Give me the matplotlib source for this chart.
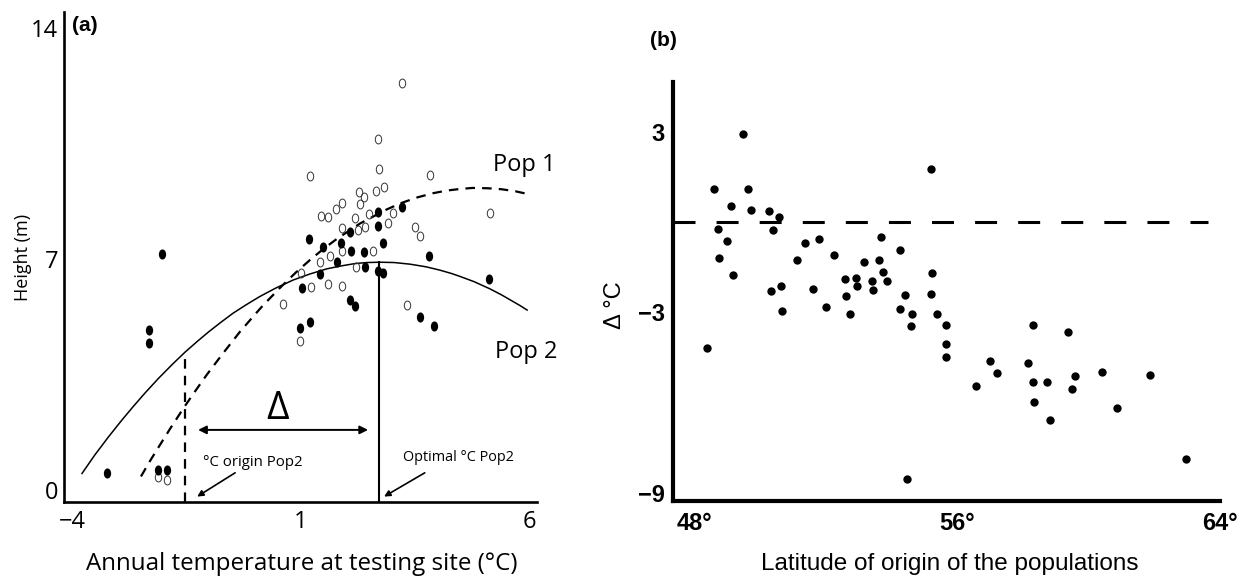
#!/usr/bin/env python
"""Two-panel figure: height response curves (a) and transfer distance vs latitude (b)."""

from __future__ import annotations

import matplotlib

matplotlib.use("Agg")
import matplotlib.pyplot as plt
from matplotlib.path import Path
from matplotlib.transforms import Affine2D


# ---- panel (a): response curves ----
POP2_CURVE_X = [-3.78, -3.50, -3.20, -2.90, -2.67, -2.40, -2.10, -1.80, -1.53, -1.25,
                -1.00, -0.75, -0.48, -0.20, 0.11, 0.45, 0.84, 1.20, 1.58, 1.90,
                2.20, 2.45, 2.74, 3.05, 3.40, 3.75, 4.05, 4.30, 4.49, 4.80,
                5.15, 5.40, 5.60, 5.80, 5.96]
POP2_CURVE_Y = [0.50, 1.06, 1.61, 2.13, 2.51, 2.94, 3.39, 3.81, 4.17, 4.51,
                4.80, 5.07, 5.35, 5.60, 5.86, 6.11, 6.36, 6.54, 6.70, 6.79,
                6.86, 6.89, 6.90, 6.89, 6.84, 6.76, 6.66, 6.56, 6.47, 6.31,
                6.09, 5.91, 5.75, 5.59, 5.45]
POP1_CURVE_X = [-2.49, -2.30, -2.14, -1.85, -1.53, -1.30, -1.05, -0.70, -0.32, 0.00,
                0.18, 0.55, 0.90, 1.21, 1.50, 1.80, 2.30, 2.89, 3.20, 3.55,
                3.90, 4.20, 4.50, 4.77, 5.10, 5.40, 5.70, 5.96]
POP1_CURVE_Y = [0.41, 0.86, 1.22, 1.86, 2.54, 3.00, 3.49, 4.13, 4.80, 5.31,
                5.59, 6.12, 6.59, 6.97, 7.30, 7.61, 8.07, 8.50, 8.69, 8.86,
                8.99, 9.07, 9.12, 9.15, 9.14, 9.11, 9.05, 8.97]

# filled ellipses
FILLED_X = [-2.03, -2.31, -2.31, -3.23, -2.12, -1.92, 2.70, 3.22, 2.08, 2.70,
            1.19, 1.49, 1.89, 2.10, 2.39, 2.81, 1.80, 2.41, 2.70, 2.81,
            1.43, 3.81, 1.03, 2.08, 2.19, 3.61, 3.92, 1.21, 0.99, 5.12]
FILLED_Y = [7.15, 4.85, 4.45, 0.52, 0.61, 0.61, 8.42, 8.58, 7.82, 8.00,
            7.61, 7.36, 7.48, 7.24, 7.21, 7.48, 6.91, 6.76, 6.64, 6.58,
            6.55, 7.09, 6.12, 5.76, 5.58, 5.24, 4.97, 5.09, 4.91, 6.39]
# open ellipses
OPEN_X = [3.22, 2.70, 1.21, 2.72, 3.83, 2.28, 2.39, 2.65, 2.83, 1.91,
          1.78, 2.30, 1.45, 1.60, 3.02, 2.50, 2.19, 1.91, 2.26, 2.41,
          2.91, 3.51, 3.61, 1.91, 2.59, 1.65, 1.43, 2.21, 1.01, 1.23,
          1.60, 1.91, 0.62, 3.33, 0.99, -2.12, -1.92, 5.15]
OPEN_Y = [12.33, 10.64, 9.52, 9.73, 9.55, 9.03, 8.88, 9.06, 9.18, 8.70,
          8.52, 8.67, 8.30, 8.27, 8.39, 8.36, 8.24, 7.94, 7.88, 7.97,
          8.09, 7.97, 7.70, 7.24, 7.24, 7.09, 6.91, 6.76, 6.58, 6.15,
          6.24, 6.18, 5.64, 5.61, 4.52, 0.39, 0.30, 8.39]

ORIGIN_TEMP = -1.53
ORIGIN_HEIGHT = 4.17
OPTIMAL_TEMP = 2.72
OPTIMAL_HEIGHT = 6.90
A_XTICKS = [-4, 1, 6]
A_YTICKS = [0, 7, 14]

# ---- panel (b): latitude vs delta temperature ----
LAT = [49.47, 55.21, 48.60, 49.62, 49.11, 49.71, 50.25, 50.58, 48.72, 50.40,
       48.99, 51.36, 51.78, 53.68, 48.75, 51.12, 52.23, 54.25, 53.17, 53.62,
       49.17, 53.74, 55.24, 52.59, 52.92, 53.41, 53.86, 52.95, 53.44, 50.31,
       50.64, 51.60, 52.62, 54.40, 55.21, 50.67, 51.99, 52.74, 54.25, 54.61,
       54.58, 48.39, 55.39, 55.66, 55.66, 55.66, 54.46, 56.56, 56.98, 57.22,
       58.15, 58.30, 58.30, 58.72, 58.33, 58.81, 59.38, 59.59, 59.50, 60.40,
       60.85, 61.87, 62.95]
DELTA_T = [2.92, 1.76, 1.10, 1.10, 0.53, 0.40, 0.37, 0.17, -0.23, -0.27,
           -0.63, -0.70, -0.56, -0.50, -1.20, -1.26, -1.10, -0.93, -1.33, -1.26,
           -1.76, -1.66, -1.69, -1.89, -1.86, -1.96, -1.96, -2.13, -2.26, -2.29,
           -2.13, -2.23, -2.46, -2.43, -2.39, -2.96, -2.82, -3.06, -2.89, -3.06,
           -3.46, -4.19, -3.06, -3.42, -4.05, -4.49, -8.54, -5.45, -4.62, -5.02,
           -4.68, -3.42, -5.32, -5.32, -5.98, -6.58, -3.65, -5.12, -5.55, -4.98,
           -6.18, -5.08, -7.87]
B_XTICKS = [48, 56, 64]
B_XTICKLABELS = ["48°", "56°", "64°"]
B_YTICKS = [3, -3, -9]
B_YTICKLABELS = ["3", "\u22123", "\u22129"]

FONT_A = ["Open Sans", "DejaVu Sans"]
FONT_B = ["Liberation Sans", "DejaVu Sans"]


def ellipse_marker() -> Path:
    return Path.unit_circle().transformed(Affine2D().scale(0.72, 1.0))


def draw_panel_a(ax) -> None:
    ax.set_xlim(-4.175, 6.175)
    ax.set_ylim(-0.364, 14.48)

    ax.plot(POP2_CURVE_X, POP2_CURVE_Y, color="black", lw=1.1)
    ax.plot(POP1_CURVE_X, POP1_CURVE_Y, color="black", lw=1.6, dashes=(4.3, 3.2))

    ax.plot([ORIGIN_TEMP, ORIGIN_TEMP], [-0.364, ORIGIN_HEIGHT], color="black",
            lw=1.6, dashes=(4.3, 3.2))
    ax.plot([OPTIMAL_TEMP, OPTIMAL_TEMP], [-0.364, OPTIMAL_HEIGHT], color="black", lw=1.5)

    mk = ellipse_marker()
    ax.plot(OPEN_X, OPEN_Y, ls="none", marker=mk, ms=6.4, mfc="none",
            mec="#333333", mew=0.7)
    ax.plot(FILLED_X, FILLED_Y, ls="none", marker=mk, ms=7.3, mfc="black",
            mec="black", mew=0)

    ax.annotate("", xy=(ORIGIN_TEMP + 0.29, 1.82), xytext=(OPTIMAL_TEMP - 0.24, 1.82),
                arrowprops=dict(arrowstyle="<|-|>", color="black", lw=1.4,
                                mutation_scale=12, shrinkA=0, shrinkB=0))
    ax.text(0.49, 2.45, "\u0394", fontsize=28, ha="center", va="center",
            family=FONT_A)

    ax.text(-1.13, 0.82, "°C origin Pop2", fontsize=10.8, ha="left", va="center",
            family=FONT_A)
    ax.annotate("", xy=(-1.26, -0.2), xytext=(-0.43, 0.52),
                arrowprops=dict(arrowstyle="-|>", color="black", lw=1.2,
                                mutation_scale=9, shrinkA=0, shrinkB=0))
    ax.text(3.24, 0.97, "Optimal °C Pop2", fontsize=10.4, ha="left", va="center",
            family=FONT_A)
    ax.annotate("", xy=(2.83, -0.2), xytext=(3.72, 0.52),
                arrowprops=dict(arrowstyle="-|>", color="black", lw=1.2,
                                mutation_scale=9, shrinkA=0, shrinkB=0))

    ax.text(5.21, 9.85, "Pop 1", fontsize=17, ha="left", va="center", family=FONT_A)
    ax.text(5.26, 4.18, "Pop 2", fontsize=17, ha="left", va="center", family=FONT_A)
    ax.text(0.017, 0.973, "(a)", fontsize=15, fontweight="bold", ha="left",
            va="center", transform=ax.transAxes, family=FONT_B)

    ax.set_xticks(A_XTICKS)
    ax.set_xticklabels([str(v).replace("-", "\u2212") for v in A_XTICKS], family=FONT_A)
    ax.set_yticks(A_YTICKS)
    ax.set_yticklabels([str(v) for v in A_YTICKS], family=FONT_A)
    ax.tick_params(length=0, labelsize=17)
    ax.tick_params(axis="y", pad=4)
    ax.tick_params(axis="x", pad=6)

    for side in ("top", "right"):
        ax.spines[side].set_visible(False)
    for side in ("left", "bottom"):
        ax.spines[side].set_linewidth(1.9)

    ax.set_xlabel("Annual temperature at testing site (°C)", fontsize=17.4, family=FONT_A)
    ax.xaxis.set_label_coords(0.503, -0.103)
    ax.xaxis.label.set_va("top")
    ax.set_ylabel("Height (m)", fontsize=13, family=FONT_A)
    ax.yaxis.set_label_coords(-0.068, 0.50)


def draw_panel_b(ax) -> None:
    ax.set_xlim(47.34, 63.77)
    ax.set_ylim(-9.27, 4.65)

    ax.plot([47.34, 63.62], [0, 0], color="black", lw=2.2, dashes=(7.2, 6.9),
            solid_capstyle="butt", dash_capstyle="butt")
    ax.plot(LAT, DELTA_T, ls="none", marker="o", ms=6.0, color="black", mew=0)

    ax.set_xticks(B_XTICKS)
    ax.set_xticklabels(B_XTICKLABELS, family=FONT_B, fontweight="bold")
    ax.set_yticks(B_YTICKS)
    ax.set_yticklabels(B_YTICKLABELS, family=FONT_B, fontweight="bold")
    ax.tick_params(length=0, labelsize=17)
    ax.tick_params(axis="y", pad=6)
    ax.tick_params(axis="x", pad=8)
    for lbl in ax.get_xticklabels():
        lbl.set_clip_on(False)

    for side in ("top", "right"):
        ax.spines[side].set_visible(False)
    for side in ("left", "bottom"):
        ax.spines[side].set_linewidth(3.0)

    ax.set_xlabel("Latitude of origin of the populations", fontsize=17.5, family=FONT_B)
    ax.xaxis.set_label_coords(0.506, -0.125)
    ax.xaxis.label.set_va("top")
    ax.set_ylabel("\u0394 °C", fontsize=17, family=FONT_B)
    ax.yaxis.set_label_coords(-0.086, 0.468)

    ax.text(-0.042, 1.098, "(b)", fontsize=15, fontweight="bold", ha="left",
            va="center", transform=ax.transAxes, family=FONT_B)


def main() -> int:
    fig = plt.figure(figsize=(12.54, 5.79), dpi=100)
    ax_a = fig.add_axes([0.0510, 0.1330, 0.3772, 0.8463])
    ax_b = fig.add_axes([0.5367, 0.1347, 0.4362, 0.7237])
    draw_panel_a(ax_a)
    draw_panel_b(ax_b)
    fig.savefig("out.png", dpi=100)
    plt.close(fig)
    return 0


if __name__ == "__main__":
    raise SystemExit(main())
